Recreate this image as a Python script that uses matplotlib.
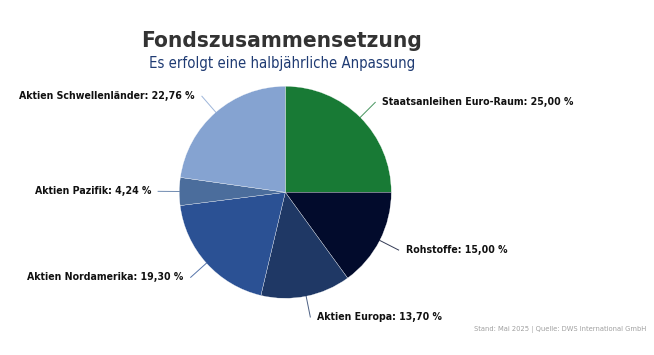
import numpy as np
import matplotlib
matplotlib.use("Agg")
import matplotlib.pyplot as plt

# Fund composition (percent)
labels = ["Staatsanleihen Euro-Raum", "Rohstoffe", "Aktien Europa",
          "Aktien Nordamerika", "Aktien Pazifik", "Aktien Schwellenländer"]
values = [25.00, 15.00, 13.70, 19.30, 4.24, 22.76]
colors = ["#187a35", "#020b2c", "#1f3865", "#2b5194", "#4b6d9c", "#85a3d1"]

W, H = 654, 355
CX, CY, R = 285.3, 192.3, 106.0  # pie centre and radius in pixels

fig = plt.figure(figsize=(W / 100, H / 100), dpi=100)
ax = fig.add_axes([0, 0, 1, 1])

wedges, _ = ax.pie(values, colors=colors, startangle=90, counterclock=False,
                   radius=1.0, wedgeprops=dict(edgecolor="white", linewidth=0.2))
ax.set_aspect("auto")
ax.set_xlim(-CX / R, (W - CX) / R)
ax.set_ylim((CY - H) / R, CY / R)
ax.axis("off")

label_font = dict(family="DejaVu Sans", fontstretch="condensed",
                  fontweight="bold", fontsize=7.6, color="#111111")

for w, name, val, col in zip(wedges, labels, values, colors):
    ang = np.deg2rad((w.theta1 + w.theta2) / 2)
    x0, y0 = np.cos(ang), np.sin(ang)
    x1, y1 = 1.2 * x0, 1.2 * y0
    ax.plot([x0, x1], [y0, y1], color=col, linewidth=0.7, alpha=0.8)
    side = 1 if x0 >= 0 else -1
    txt = f"{name}: {val:.2f} %".replace(".", ",")
    ax.annotate(txt, xy=(x1, y1), xytext=(side * 5, 0),
                textcoords="offset points", va="center",
                ha="left" if side > 0 else "right", **label_font)

fig.text(282 / W, 1 - 47 / H, "Fondszusammensetzung", ha="center",
         va="baseline", fontsize=16.2, fontweight="bold", color="#333333",
         fontstretch="condensed")
fig.text(282.5 / W, 1 - 68 / H, "Es erfolgt eine halbjährliche Anpassung",
         ha="center", va="baseline", fontsize=10.7, color="#1f3b73",
         fontstretch="condensed")
fig.text(646 / W, 1 - 331 / H,
         "Stand: Mai 2025 | Quelle: DWS International GmbH",
         ha="right", va="baseline", fontsize=4.9, color="#a0a0a0")

fig.savefig("out.png", dpi=100)
